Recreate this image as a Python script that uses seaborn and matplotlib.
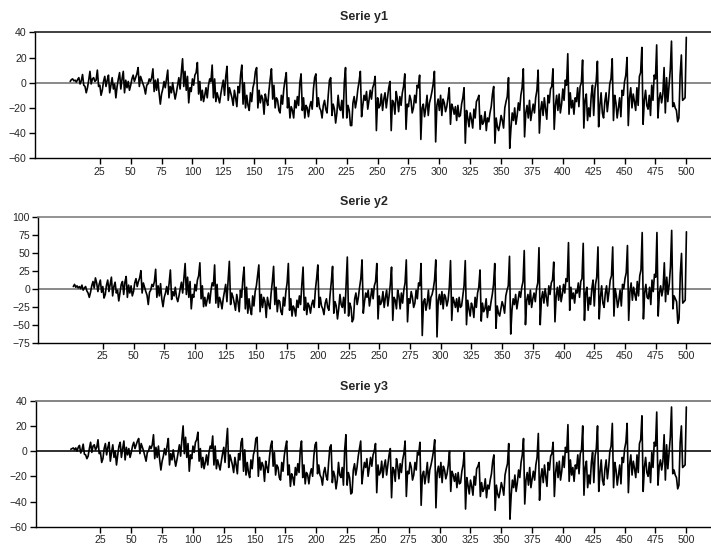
import matplotlib
matplotlib.use("Agg")
import matplotlib.pyplot as plt
import seaborn as sns
import pandas as pd

t = list(range(1, 501))

y1 = [
    1.0, 2.5, 3.0, 1.5, 2.0, 0.5, 2.5, 4.0, -1.0, 1.5, 6.5, -2.0,
    -3, -8, -4, 2, 9, -1, 3, 4, 1, 2, 10, -3,
    -2, -10, -6, 1, 5, -3, 2, 6, -8, -2, 4, -5,
    -1, -12, -3, 3, 8, -5, 3, 9, -8, 2, -4, 1,
    -6, -2, 3, 6, 1, 4, 7, 12, -3, 5, 2, -1,
    -4, -9, -2, -1, 3, 1, 4, 11, -7, 2, -6, 3,
    -8, -17, -9, -5, 1, -4, 3, 10, -12, -3, -8, 0,
    -7, -13, -8, -2, 4, -5, 8, 19, -3, 9, -6, 5,
    -16, -4, -7, 3, -2, 6, 8, 16, -9, 1, -14, -6,
    -15, -10, -4, -12, -2, 3, 1, 14, -12, 3, -15, -8,
    -12, -16, -9, -3, 2, -10, 5, 13, -14, -4, -8, -12,
    -18, -6, -12, -19, -3, -8, 6, 14, -17, 0, -20, -10,
    -18, -22, -8, -15, -4, 0, 9, 12, -20, -6, -16, -10,
    -13, -25, -9, -14, -18, -6, 3, 11, -13, -2, -20, -12,
    -14, -22, -24, -10, -17, -5, 2, 8, -20, -12, -28, -19,
    -22, -28, -14, -20, -11, -18, 0, 7, -22, -12, -28, -18,
    -20, -27, -19, -15, -21, -5, 4, 7, -19, -12, -20, -22,
    -28, -18, -14, -21, -24, -10, 2, 4, -26, -17, -21, -32,
    -24, -10, -20, -22, -14, -28, 0, 12, -28, -18, -22, -34,
    -34, -16, -11, -20, -14, -5, 1, 9, -27, -18, -10, -14,
    -7, -21, -14, -6, -13, -4, -1, 5, -38, -12, -20, -18,
    -9, -22, -13, -8, -20, -12, -4, 1, -38, -14, -16, -25,
    -7, -13, -23, -11, -18, -8, -3, 7, -37, -17, -19, -10,
    -14, -24, -20, -10, -16, -2, -4, 6, -45, -20, -17, -27,
    -20, -10, -26, -16, -12, -7, -1, 9, -47, -18, -13, -22,
    -10, -26, -13, -16, -23, -19, -12, -4, -33, -17, -20, -25,
    -19, -30, -18, -27, -26, -17, -12, -4, -48, -22, -28, -35,
    -24, -29, -36, -21, -28, -15, -13, -10, -37, -26, -33, -31,
    -23, -38, -28, -31, -24, -19, -9, -3, -48, -28, -35, -38,
    -33, -26, -30, -36, -20, -15, -11, 4, -52, -36, -24, -30,
    -20, -33, -26, -16, -22, -10, -4, 11, -43, -24, -18, -28,
    -14, -30, -23, -17, -24, -12, -6, 10, -40, -22, -15, -26,
    -12, -21, -29, -10, -16, -5, -3, 11, -37, -18, -10, -22,
    -9, -24, -17, -5, -14, 2, -2, 23, -25, -8, -20, -14,
    -25, -12, -15, -4, -19, -3, 0, 18, -36, -14, -9, -30,
    -20, -27, -10, -2, -26, -5, 1, 17, -35, -18, -8, -24,
    -28, -15, -8, -23, -14, -1, 3, 19, -30, -10, -16, -28,
    -20, -12, -27, -6, -10, 1, 6, 20, -34, -12, -4, -20,
    -9, -15, -22, -4, -18, 5, 8, 28, -33, -14, -6, -18,
    -21, -10, -26, -2, -14, 6, 3, 30, -28, -13, -8, -16,
    -9, 12, -24, 4, -15, -2, 10, 33, -19, -16, -20, -22,
    -31, -28, 6, 22, -14, -13, -12, 36,
]

y2 = [
    3, 6, 2, 4, 1, 3, 0, 5, -2, 1, 3, -3,
    -6, -12, -5, 4, 10, 1, 15, 8, -4, 6, 12, -5,
    3, -13, -8, 5, 12, -4, 6, 16, -10, 3, 9, -6,
    -2, -17, -5, 6, 10, -8, 9, 17, -12, 5, -6, 4,
    -10, -4, 8, 14, 3, 10, 15, 25, -6, 8, 2, -4,
    -9, -22, -5, -2, 6, 3, 10, 27, -12, 4, -10, 7,
    -14, -25, -12, -6, 3, -8, 8, 26, -15, -4, -10, 2,
    -12, -18, -10, 0, 9, -6, 14, 35, -8, 16, -12, 10,
    -28, -8, -12, 6, -3, 12, 18, 36, -14, 4, -25, -12,
    -24, -15, -6, -20, -3, 8, 4, 33, -20, 6, -26, -12,
    -18, -28, -14, -4, 6, -18, 12, 38, -22, -6, -12, -20,
    -30, -8, -18, -32, -2, -12, 14, 30, -28, 2, -34, -14,
    -28, -36, -10, -24, -4, 4, 18, 33, -32, -8, -26, -12,
    -18, -40, -12, -22, -28, -6, 10, 31, -22, 2, -32, -16,
    -18, -32, -36, -12, -24, -4, 8, 35, -30, -14, -38, -24,
    -28, -38, -16, -26, -10, -22, 6, 30, -30, -12, -36, -20,
    -24, -34, -22, -16, -26, -2, 14, 33, -26, -12, -24, -28,
    -36, -20, -14, -26, -30, -8, 10, 31, -34, -18, -24, -42,
    -28, -8, -22, -26, -12, -34, 6, 44, -38, -20, -26, -46,
    -42, -14, -6, -22, -12, 2, 14, 40, -34, -18, -6, -12,
    -2, -24, -12, 0, -14, 4, 10, 35, -42, -10, -22, -18,
    -4, -26, -12, -2, -24, -10, 6, 30, -44, -12, -16, -28,
    -2, -10, -28, -6, -20, -2, 8, 40, -46, -14, -20, -4,
    -12, -26, -20, -2, -14, 8, 4, 35, -65, -18, -14, -30,
    -20, -2, -28, -12, -8, 0, 12, 40, -67, -16, -8, -22,
    -4, -28, -8, -12, -24, -16, 2, 39, -44, -12, -18, -26,
    -14, -32, -12, -26, -24, -10, 4, 39, -50, -16, -28, -38,
    -20, -26, -40, -12, -26, -6, 2, 26, -45, -20, -32, -28,
    -14, -40, -24, -30, -18, -8, 6, 35, -55, -24, -34, -38,
    -28, -18, -24, -34, -10, -2, 4, 45, -63, -30, -14, -22,
    -8, -28, -16, -4, -12, 2, 10, 53, -50, -16, -8, -22,
    -2, -26, -14, -6, -18, 0, 8, 57, -50, -14, -4, -20,
    0, -12, -24, 4, -8, 8, 12, 37, -46, -10, 2, -16,
    4, -18, -8, 6, -6, 14, 10, 64, -30, 2, -14, -6,
    -20, -2, -6, 8, -12, 10, 14, 63, -44, -6, 2, -30,
    -12, -22, 0, 12, -24, 6, 16, 58, -42, -12, 4, -20,
    -26, -6, 4, -18, -4, 12, 18, 58, -38, 0, -10, -26,
    -16, -2, -24, 6, 0, 14, 22, 60, -44, -4, 8, -16,
    2, -8, -16, 10, -10, 18, 26, 78, -42, -6, 6, -12,
    -14, 2, -22, 12, -4, 20, 16, 78, -38, -6, 4, -10,
    0, 36, -18, 16, -8, 6, 30, 81, -28, -10, -14, -18,
    -48, -42, 20, 49, -20, -18, -16, 79,
]

y3 = [
    1.5, 2.0, 2.5, 1.0, 2.5, 0.0, 3.0, 4.5, -1.5, 1.0, 5.5, -2.5,
    -3, -6, -4, 2, 7, -1, 4, 5, 1, 3, 9, -2,
    -1, -9, -6, 2, 6, -3, 3, 7, -8, -1, 5, -5,
    0, -11, -3, 4, 7, -5, 2, 8, -7, 3, -3, 2,
    -5, -1, 4, 7, 2, 5, 8, 10, -2, 6, 3, 0,
    -4, -8, -1, 0, 4, 2, 5, 13, -6, 3, -5, 4,
    -7, -15, -8, -4, 2, -3, 4, 10, -11, -2, -7, 1,
    -6, -12, -7, -1, 5, -4, 9, 20, -2, 11, -5, 6,
    -16, -3, -6, 4, -1, 7, 9, 15, -8, 2, -13, -5,
    -14, -9, -3, -11, -1, 4, 2, 12, -11, 4, -14, -7,
    -11, -15, -8, -2, 3, -9, 6, 18, -13, -3, -7, -11,
    -17, -5, -11, -18, -2, -7, 7, 10, -16, 1, -19, -9,
    -17, -21, -7, -14, -3, 1, 10, 11, -20, -5, -15, -9,
    -12, -24, -8, -13, -17, -5, 4, 8, -12, -1, -19, -11,
    -13, -21, -23, -9, -16, -4, 3, 8, -19, -11, -28, -18,
    -21, -27, -13, -19, -10, -17, 1, 8, -21, -11, -26, -17,
    -19, -26, -18, -14, -20, -4, 5, 7, -18, -11, -19, -21,
    -27, -17, -13, -20, -23, -9, 3, 5, -25, -16, -20, -30,
    -23, -9, -19, -21, -13, -27, 1, 13, -27, -17, -21, -34,
    -33, -15, -10, -19, -13, -4, 2, 8, -26, -17, -9, -13,
    -6, -20, -13, -5, -12, -3, 0, 6, -33, -11, -19, -17,
    -8, -21, -12, -7, -19, -11, -3, 2, -37, -13, -15, -24,
    -6, -12, -22, -10, -17, -7, -2, 8, -36, -16, -18, -9,
    -13, -23, -19, -9, -15, -1, -3, 7, -43, -19, -16, -26,
    -19, -9, -25, -15, -11, -6, 0, 9, -45, -17, -12, -21,
    -9, -25, -12, -15, -22, -18, -11, 0, -32, -16, -19, -24,
    -18, -29, -17, -26, -25, -16, -11, -1, -46, -21, -27, -34,
    -23, -28, -35, -20, -27, -14, -12, -9, -36, -25, -32, -30,
    -22, -37, -27, -30, -23, -18, -8, -3, -47, -27, -34, -37,
    -32, -25, -29, -35, -19, -14, -10, 6, -54, -35, -23, -29,
    -19, -32, -25, -15, -21, -9, -3, 10, -42, -23, -17, -27,
    -13, -29, -22, -16, -23, -11, -5, 14, -39, -21, -14, -25,
    -11, -20, -28, -9, -15, -4, -2, 7, -36, -17, -9, -21,
    -8, -23, -16, -4, -13, 3, -1, 21, -24, -7, -19, -13,
    -24, -11, -14, -3, -18, -2, 1, 20, -35, -13, -8, -29,
    -19, -26, -9, -1, -25, -4, 2, 20, -32, -17, -7, -23,
    -27, -14, -7, -22, -13, 0, 4, 22, -29, -9, -15, -27,
    -19, -11, -26, -5, -9, 2, 7, 22, -33, -11, -3, -19,
    -8, -14, -21, -3, -17, 6, 9, 28, -32, -13, -5, -17,
    -20, -9, -25, -1, -13, 7, 4, 31, -27, -12, -7, -15,
    -8, 13, -23, 5, -14, -1, 11, 35, -18, -15, -19, -21,
    -30, -27, 7, 20, -13, -12, -11, 35,
]

titles = ["Serie y1", "Serie y2", "Serie y3"]
ylims = [(-60, 40), (-75, 100), (-60, 40)]
yticks = [[-60, -40, -20, 0, 20, 40],
          [-75, -50, -25, 0, 25, 50, 75, 100],
          [-60, -40, -20, 0, 20, 40]]
xticks = list(range(25, 501, 25))

sns.set_style("white")
plt.rcParams["font.family"] = ["Liberation Sans", "DejaVu Sans"]

W, H = 711, 548
fig = plt.figure(figsize=(W / 100, H / 100), dpi=100)

# axes boxes in pixels: (left, top, bottom)
boxes = [(35.0, 32.3, 158.3), (38.3, 216.7, 342.7), (35.7, 400.7, 526.7)]
title_y = [16.7, 201.5, 386.7]
zero_col = ["#808080", "#808080", "#202020"]
top_col = ["#202020", "#808080", "#707070"]

for i, (ys, title) in enumerate(zip([y1, y2, y3], titles)):
    left, top, bot = boxes[i]
    ax = fig.add_axes([left / W, 1 - bot / H, (W - left) / W, (bot - top) / H])
    df = pd.DataFrame({"t": t, "v": ys})
    ax.axhline(0, color=zero_col[i], lw=1.3, zorder=1)
    sns.lineplot(data=df, x="t", y="v", ax=ax, color="black", lw=1.2, zorder=2)
    ax.set_xlim(-27.5, 520)
    ax.set_ylim(*ylims[i])
    ax.set_xticks(xticks)
    ax.set_yticks(yticks[i])
    ax.set_xlabel("")
    ax.set_ylabel("")
    ax.tick_params(axis="both", direction="out", length=4, width=1,
                   labelsize=7.6, color="black", pad=2, left=True, bottom=True)
    for s in ["left", "bottom"]:
        ax.spines[s].set_color("black")
        ax.spines[s].set_linewidth(1.0)
    ax.spines["top"].set_color(top_col[i])
    ax.spines["top"].set_linewidth(1.2)
    ax.spines["right"].set_visible(False)
    fig.text(364 / W, 1 - title_y[i] / H, title, ha="center", va="center",
             fontsize=9, fontweight="bold")

fig.savefig("out.png", dpi=100)
